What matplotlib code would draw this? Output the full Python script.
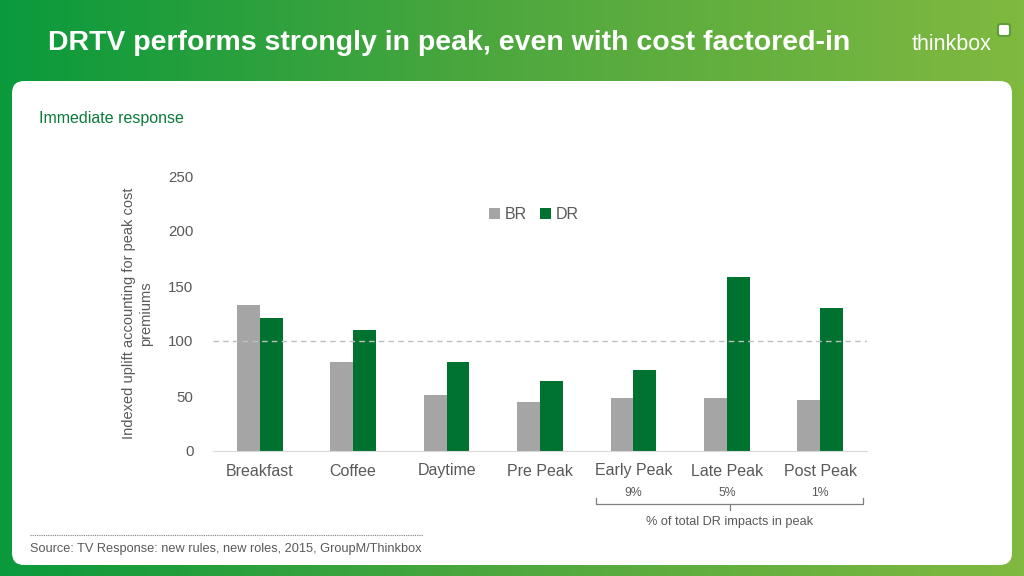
import numpy as np
import matplotlib
matplotlib.use("Agg")
import matplotlib.pyplot as plt
from matplotlib.patches import FancyBboxPatch
from matplotlib.transforms import blended_transform_factory

COLORS = {
    "text": "#595959",
    "br": "#A5A5A5",
    "dr": "#00722F",
    "accent": "#0B7A3B",
    "axis": "#D9D9D9",
    "ref": "#BFBFBF",
}

categories = ["Breakfast", "Coffee", "Daytime", "Pre Peak", "Early Peak", "Late Peak", "Post Peak"]
br_values = [133, 81, 51, 45, 48, 48, 46]
dr_values = [121, 110, 81, 64, 74, 158, 130]
y_ticks = [0, 50, 100, 150, 200, 250]
peak_categories = ["Early Peak", "Late Peak", "Post Peak"]
peak_share = ["9%", "5%", "1%"]

plt.rcParams["font.family"] = ["Liberation Sans", "DejaVu Sans"]

fig = plt.figure(figsize=(10.24, 5.76), dpi=100)

# green gradient background + white panel, kept behind the chart
bg = fig.add_axes([0, 0, 1, 1], zorder=-10)
bg.set_axis_off()
grad = np.linspace(0, 1, 256).reshape(1, -1)
cmap = matplotlib.colors.LinearSegmentedColormap.from_list("bg", ["#0A9A3C", "#4FA83E", "#80B940"])
bg.imshow(grad, aspect="auto", cmap=cmap, extent=[0, 1, 0, 1])
bg.set_xlim(0, 1)
bg.set_ylim(0, 1)
bg.add_patch(FancyBboxPatch((12 / 1024, 11 / 576), 1000 / 1024, 484 / 576,
                            boxstyle="round,pad=0,rounding_size=0.012",
                            facecolor="white", edgecolor="none",
                            mutation_aspect=1024 / 576))
bg.add_patch(FancyBboxPatch((998 / 1024, 1 - 36 / 576), 12 / 1024, 12 / 576,
                            boxstyle="round,pad=0,rounding_size=0.003",
                            facecolor="white", edgecolor="#5E9E3A", linewidth=1.5))

fig.text(48 / 1024, 1 - 43 / 576, "DRTV performs strongly in peak, even with cost factored-in",
         color="white", fontsize=20.5, fontweight="bold", va="center", ha="left")
fig.text(952 / 1024, 1 - 45 / 576, "thinkbox", color="white", fontsize=15.5, va="center", ha="center")

fig.text(39 / 1024, 1 - 118 / 576, "Immediate response", color=COLORS["accent"],
         fontsize=11.5, va="center", ha="left")

ax = fig.add_axes([213 / 1024, 1 - 451 / 576, 654 / 1024, 275 / 576])
x = np.arange(len(categories))
w = 0.245
ax.bar(x - w / 2, br_values, w, color=COLORS["br"], label="BR")
ax.bar(x + w / 2, dr_values, w, color=COLORS["dr"], label="DR")
ax.axhline(100, color=COLORS["ref"], linestyle=(0, (4, 3)), linewidth=1)

ax.set_xlim(-0.5, len(categories) - 0.5)
ax.set_ylim(0, 250)
ax.set_yticks(y_ticks)
ax.set_xticks(x)
ax.set_xticklabels(categories)
ax.tick_params(axis="y", length=0, pad=14, labelsize=10.8, labelcolor=COLORS["text"])
ax.tick_params(axis="x", length=0, pad=9, labelsize=11.5, labelcolor=COLORS["text"])
for s in ("top", "right", "left"):
    ax.spines[s].set_visible(False)
ax.spines["bottom"].set_color(COLORS["axis"])
ax.set_facecolor("none")

ax.set_ylabel("Indexed uplift accounting for peak cost\npremiums", color=COLORS["text"],
              fontsize=10.5, labelpad=11, linespacing=1.3)

leg = ax.legend(loc="upper left", bbox_to_anchor=(0.40, 0.94), ncol=2, frameon=False,
                handlelength=0.7, handleheight=0.7, handletextpad=0.3, columnspacing=0.8,
                fontsize=11.5)
for t in leg.get_texts():
    t.set_color(COLORS["text"])

# peak share annotation under the x axis
tr = blended_transform_factory(ax.transData, fig.transFigure)
idx = [categories.index(c) for c in peak_categories]
for i, s in zip(idx, peak_share):
    ax.text(i, 1 - 493 / 576, s, transform=tr, ha="center", va="center",
            color=COLORS["text"], fontsize=8.8)
left, right = idx[0] - 0.4, idx[-1] + 0.46
mid = (left + right) / 2
yb, yt = 1 - 504 / 576, 1 - 498 / 576
ax.plot([left, left, right, right], [yt, yb, yb, yt], transform=tr, color="#7F7F7F",
        linewidth=0.9, clip_on=False)
ax.plot([mid, mid], [yb, 1 - 510 / 576], transform=tr, color="#7F7F7F",
        linewidth=0.9, clip_on=False)
ax.text(mid, 1 - 522 / 576, "% of total DR impacts in peak", transform=tr, ha="center",
        va="center", color=COLORS["text"], fontsize=9.2)

# source
fig.add_artist(plt.Line2D([30 / 1024, 423 / 1024], [1 - 535 / 576, 1 - 535 / 576],
                          transform=fig.transFigure, color="#7F7F7F", linewidth=0.8,
                          linestyle=(0, (1, 1))))
fig.text(30 / 1024, 1 - 549 / 576, "Source: TV Response: new rules, new roles, 2015, GroupM/Thinkbox",
         color=COLORS["text"], fontsize=9.2, va="center", ha="left")

fig.savefig("out.png", dpi=100)
